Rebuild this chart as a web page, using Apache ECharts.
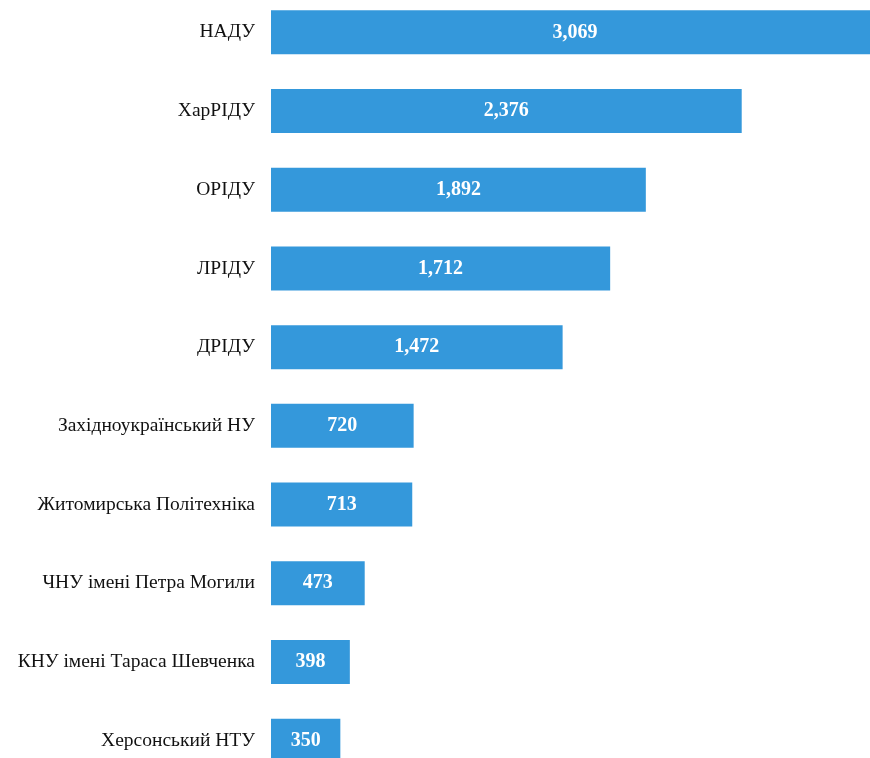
<!DOCTYPE html>
<html>
<head>
<meta charset="utf-8">
<script src="https://cdn.jsdelivr.net/npm/echarts@6/dist/echarts.min.js"></script>
<style>html,body{margin:0;padding:0;background:#fff;overflow:hidden;width:870px;height:758px;}#c{position:absolute;left:0;top:-7px;width:879px;height:787px;}</style>
</head>
<body>
<div id="c"></div>
<script>
const categories = ["НАДУ","ХарРІДУ","ОРІДУ","ЛРІДУ","ДРІДУ","Західноукраїнський НУ","Житомирська Політехніка","ЧНУ імені Петра Могили","КНУ імені Тараса Шевченка","Херсонський НТУ"];
const values = [3069, 2376, 1892, 1712, 1472, 720, 713, 473, 398, 350];

const chart = echarts.init(document.getElementById('c'), null, {renderer: 'canvas'});
chart.setOption({
  animation: false,
  grid: {left: 271, right: 0, top: 0, bottom: 0, containLabel: false},
  xAxis: {type: 'value', min: 0, max: 3069, show: false},
  yAxis: {
    type: 'category', data: categories, inverse: true,
    axisLine: {show: false}, axisTick: {show: false}, splitLine: {show: false},
    axisLabel: {margin: 16, color: '#111', fontFamily: 'Liberation Serif', fontSize: 19.5}
  },
  series: [{
    type: 'bar', data: values, barWidth: 44,
    itemStyle: {color: '#3498db'},
    label: {show: true, position: 'inside', color: '#fff', fontFamily: 'Liberation Serif', fontWeight: 'bold', fontSize: 20,
      formatter: p => p.value.toLocaleString('en-US')}
  }]
});
</script>
</body>
</html>
